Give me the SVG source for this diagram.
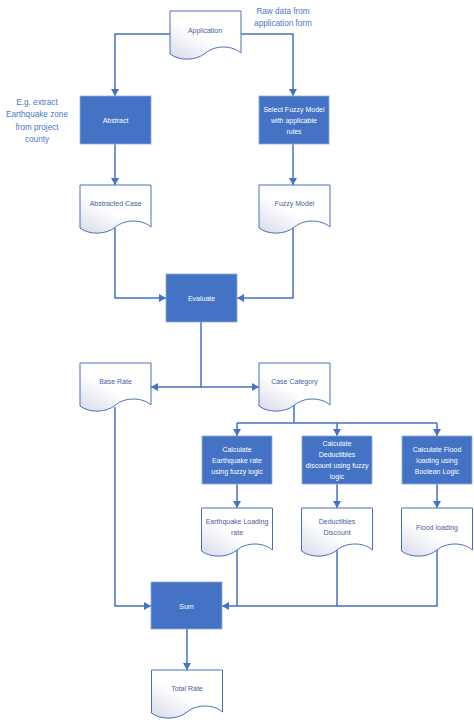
<svg xmlns="http://www.w3.org/2000/svg" width="474" height="720" viewBox="0 0 474 720">
<defs>
<linearGradient id="docg" x1="0" y1="1" x2="0.7" y2="0.2">
<stop offset="0" stop-color="#d6dbe9"/>
<stop offset="0.6" stop-color="#ffffff"/>
<stop offset="1" stop-color="#ffffff"/>
</linearGradient>
<marker id="arr" markerWidth="8" markerHeight="8" refX="7" refY="4" orient="auto" markerUnits="userSpaceOnUse">
<path d="M0,0 L7,4 L0,8 z" fill="#4472c4"/>
</marker>
<path id="doc" d="M0,0 H71 V42 C62,34 45,34 35.5,42 C26,50 9,50 0,43 Z"/>
</defs>
<style>
.doc{fill:url(#docg);stroke:#4a6ebc;stroke-width:1}
.box{fill:#4472c4;stroke:#8faadc;stroke-width:0.8}
.conn{fill:none;stroke:#4472c4;stroke-width:1.5}
.arrow{marker-end:url(#arr)}
text{font-family:"Liberation Sans",Arial,sans-serif;text-anchor:middle;dominant-baseline:central}
.dt{font-size:7px;fill:#4a5c9c}
.bt{font-size:7px;fill:#ffffff}
.note{font-size:8.2px;fill:#4a78c8}
</style>
<text class="note" x="37" y="102">E.g. extract</text>
<text class="note" x="37" y="114.5">Earthquake zone</text>
<text class="note" x="37" y="127">from project</text>
<text class="note" x="37" y="139">county</text>
<text class="note" x="283" y="11">Raw data from</text>
<text class="note" x="283" y="23">application form</text>
<g id="connectors">
<path class="conn arrow" d="M170,34 H115 V96"/>
<path class="conn arrow" d="M240,34 H293 V96"/>
<path class="conn arrow" d="M115,144 V185"/>
<path class="conn arrow" d="M293,144 V185"/>
<path class="conn arrow" d="M115,228 V298 H166"/>
<path class="conn arrow" d="M293,227 V298 H237"/>
<path class="conn arrow" d="M201,322 V387 H151"/>
<path class="conn arrow" d="M201,387 H259"/>
<path class="conn" d="M294,405 V423 M237,423 H437"/>
<path class="conn arrow" d="M237,423 V436"/>
<path class="conn arrow" d="M337,423 V436"/>
<path class="conn arrow" d="M437,423 V436"/>
<path class="conn arrow" d="M237,484 V508"/>
<path class="conn arrow" d="M337,484 V508"/>
<path class="conn arrow" d="M437,484 V508"/>
<path class="conn" d="M237,550 V606 M337,550 V606"/>
<path class="conn arrow" d="M437,550 V606 H222"/>
<path class="conn arrow" d="M115,407 V606 H151"/>
<path class="conn arrow" d="M187,629 V670"/>
</g>
<g id="application"><use href="#doc" class="doc" x="170" y="11"/><text class="dt" x="205" y="30">Application</text></g>
<g id="abstract"><rect class="box" x="80" y="96" width="71" height="48"/><text class="bt" x="115.5" y="120">Abstract</text></g>
<g id="select-fuzzy"><rect class="box" x="259" y="96" width="70" height="48"/><text class="bt" x="294" y="109">Select Fuzzy Model</text><text class="bt" x="294" y="120">with applicable</text><text class="bt" x="294" y="131">rules</text></g>
<g id="abstracted-case"><use href="#doc" class="doc" x="80" y="185"/><text class="dt" x="115.5" y="203">Abstracted Case</text></g>
<g id="fuzzy-model"><use href="#doc" class="doc" x="259" y="185"/><text class="dt" x="294.5" y="203">Fuzzy Model</text></g>
<g id="evaluate"><rect class="box" x="166" y="274" width="71" height="48"/><text class="bt" x="201.5" y="298">Evaluate</text></g>
<g id="base-rate"><use href="#doc" class="doc" x="80" y="363"/><text class="dt" x="115.5" y="381">Base Rate</text></g>
<g id="case-category"><use href="#doc" class="doc" x="259" y="363"/><text class="dt" x="294.5" y="381">Case Category</text></g>
<g id="calc-eq"><rect class="box" x="202" y="436" width="70" height="48"/><text class="bt" x="237" y="449">Calculate</text><text class="bt" x="237" y="460">Earthquake rate</text><text class="bt" x="237" y="471">using fuzzy logic</text></g>
<g id="calc-ded"><rect class="box" x="302" y="436" width="70" height="48"/><text class="bt" x="337" y="443.5">Calculate</text><text class="bt" x="337" y="454.5">Deductibles</text><text class="bt" x="337" y="465.5">discount using fuzzy</text><text class="bt" x="337" y="476.5">logic</text></g>
<g id="calc-flood"><rect class="box" x="402" y="436" width="70" height="48"/><text class="bt" x="437" y="449">Calculate Flood</text><text class="bt" x="437" y="460">loading using</text><text class="bt" x="437" y="471">Boolean Logic</text></g>
<g id="eq-loading"><use href="#doc" class="doc" x="201.5" y="508"/><text class="dt" x="237" y="521.5">Earthquake Loading</text><text class="dt" x="237" y="532.5">rate</text></g>
<g id="ded-discount"><use href="#doc" class="doc" x="301.5" y="508"/><text class="dt" x="337" y="521.5">Deductibles</text><text class="dt" x="337" y="532.5">Discount</text></g>
<g id="flood-loading"><use href="#doc" class="doc" x="401.5" y="508"/><text class="dt" x="437" y="527">Flood loading</text></g>
<g id="sum"><rect class="box" x="151" y="582" width="71" height="47"/><text class="bt" x="186.5" y="606">Sum</text></g>
<g id="total-rate"><use href="#doc" class="doc" x="151.5" y="670"/><text class="dt" x="187" y="688">Total Rate</text></g>
</svg>
